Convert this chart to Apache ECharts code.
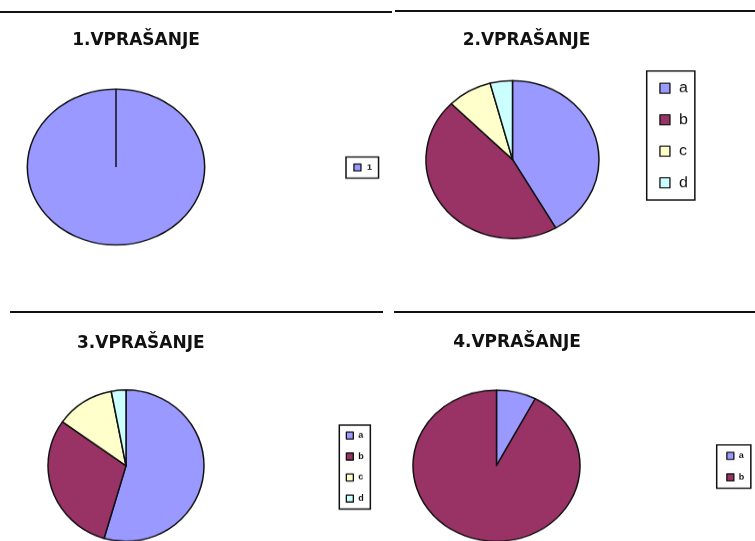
<!DOCTYPE html>
<html>
<head>
<meta charset="utf-8">
<script src="https://cdn.jsdelivr.net/npm/echarts@6/dist/echarts.min.js"></script>
<style>
  html, body { margin: 0; padding: 0; background: #fff; overflow: hidden; width: 755px; height: 541px; }
  .layer { position: absolute; left: 0; top: 0; width: 755px; transform-origin: 0 0; }
</style>
</head>
<body>
<div id="base" class="layer" style="height:541px"></div>
<div id="q1" class="layer"></div>
<div id="q2" class="layer"></div>
<div id="q3" class="layer"></div>
<div id="q4" class="layer"></div>
<script>
// Survey answers per question
const titles = ['1.VPRAŠANJE', '2.VPRAŠANJE', '3.VPRAŠANJE', '4.VPRAŠANJE'];
const q1Categories = ['1'];
const q1Values = [33];
const q2Categories = ['a', 'b', 'c', 'd'];
const q2Values = [10, 11, 2, 1];
const q3Categories = ['a', 'b', 'c', 'd'];
const q3Values = [18, 10, 4, 1];
const q4Categories = ['a', 'b'];
const q4Values = [1, 12];
const answerColors = ['#9999FF', '#993366', '#FFFFCC', '#CCFFFF'];

// Panel layout: pie ellipse (cx, cy, rx, ry) and legend box, in page pixels
const panels = [
  { id: 'q1', cats: q1Categories, vals: q1Values, cx: 116, cy: 167, rx: 88.7, ry: 78, radialLine: true,
    legend: { left: 346, top: 157, sq: 7, padV: 5.5, padL: 7.3, padR: 6.6, textPad: 1, gap: 11, font: 9, weight: 'bold', lh: 10 } },
  { id: 'q2', cats: q2Categories, vals: q2Values, cx: 512.5, cy: 159.5, rx: 86.5, ry: 79,
    legend: { left: 646.7, top: 71, sq: 10, padV: 9.3, padL: 12.6, padR: 7, textPad: 4, gap: 15.5, font: 16, weight: 'normal', lh: 16 } },
  { id: 'q3', cats: q3Categories, vals: q3Values, cx: 126, cy: 465.7, rx: 78, ry: 75.7,
    legend: { left: 339.3, top: 425, sq: 7, padV: 5.5, padL: 6.4, padR: 6.5, textPad: 0, gap: 11, font: 9, weight: 'bold', lh: 10 } },
  { id: 'q4', cats: q4Categories, vals: q4Values, cx: 496.5, cy: 465.7, rx: 83.5, ry: 75.7,
    legend: { left: 716.7, top: 445, sq: 7, padV: 5.8, padL: 9.5, padR: 6.5, textPad: 0, gap: 11.6, font: 9, weight: 'bold', lh: 10 } }
];

const titlePos = [[136, 41], [526.5, 40.5], [140.8, 343.5], [517, 342.5]];
const rules = [[0, 12, 392, 12], [395, 11, 755, 11], [10, 312, 383, 312], [394, 312, 755, 312]];

// Base layer: titles and separator rules
const base = echarts.init(document.getElementById('base'), null, { renderer: 'canvas', devicePixelRatio: 1 });
base.setOption({
  backgroundColor: '#fff',
  animation: false,
  graphic: [
    ...rules.map(r => ({ type: 'line', shape: { x1: r[0], y1: r[1], x2: r[2], y2: r[3] },
      style: { stroke: '#111', lineWidth: 2 }, silent: true })),
    ...titles.map((t, i) => ({ type: 'text', x: titlePos[i][0], y: titlePos[i][1],
      style: { text: t, font: 'bold 17px "DejaVu Sans"', fill: '#111', align: 'center', verticalAlign: 'middle' },
      silent: true }))
  ]
});

// Pie layers: each drawn as a circle, squashed vertically into an ellipse
panels.forEach(p => {
  const k = p.ry / p.rx;
  const el = document.getElementById(p.id);
  el.style.height = Math.ceil(541 / k + 2) + 'px';
  el.style.transform = 'scaleY(' + k + ')';
  const chart = echarts.init(el, null, { renderer: 'canvas', devicePixelRatio: 1 });
  const L = p.legend;
  const cyk = p.cy / k;
  chart.setOption({
    animation: false,
    legend: {
      orient: 'vertical', left: L.left, top: L.top / k,
      padding: [L.padV / k, L.padR, L.padV / k, L.padL],
      itemWidth: L.sq, itemHeight: L.sq / k, itemGap: L.gap / k,
      icon: 'rect', borderColor: '#111', borderWidth: 1.5, borderRadius: 0,
      itemStyle: { borderColor: '#111', borderWidth: 1.3 },
      selectedMode: false,
      textStyle: { fontFamily: 'Liberation Sans', fontSize: L.font, fontWeight: L.weight, color: '#111',
        lineHeight: L.lh / k, padding: [0, 0, 0, L.textPad] },
      data: p.cats
    },
    series: [{
      type: 'pie', center: [p.cx, cyk], radius: p.rx, startAngle: 90, clockwise: true,
      silent: true, label: { show: false }, labelLine: { show: false },
      emphasis: { disabled: true },
      itemStyle: { borderColor: '#111', borderWidth: 1.5 },
      data: p.cats.map((c, i) => ({ name: c, value: p.vals[i], itemStyle: { color: answerColors[i] } }))
    }],
    graphic: p.radialLine ? [{ type: 'line', shape: { x1: p.cx, y1: cyk, x2: p.cx, y2: cyk - p.rx },
      style: { stroke: '#111', lineWidth: 1.5 }, silent: true, z: 100 }] : []
  });
});
</script>
</body>
</html>
